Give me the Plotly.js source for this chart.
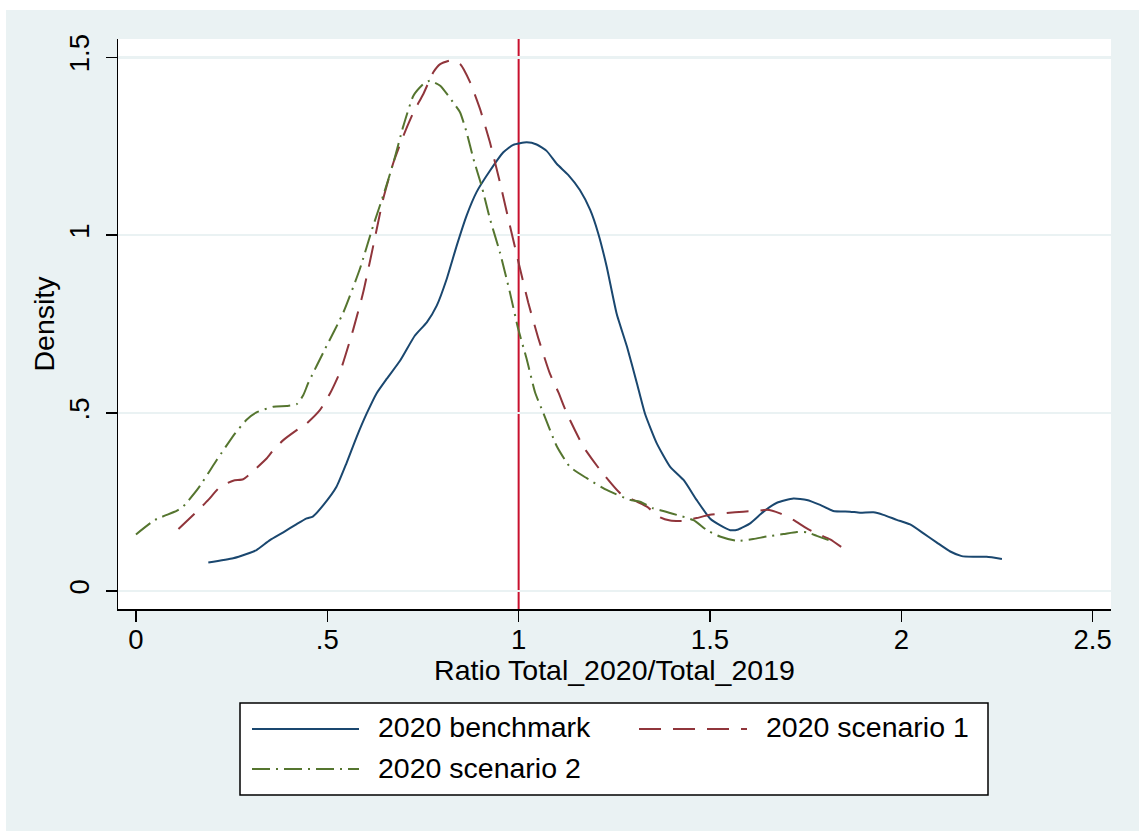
<!DOCTYPE html>
<html>
<head>
<meta charset="utf-8">
<script src="https://cdn.plot.ly/plotly-3.0.1.min.js"></script>
<style>
  html, body { margin: 0; padding: 0; background: #ffffff; }
  #chart { position: absolute; left: 6px; top: 10px; width: 1133px; height: 821px; }
</style>
</head>
<body>
<div id="chart"></div>
<script>
// ---------- data ----------
const benchmarkX = [0.189, 0.254, 0.289, 0.315, 0.35, 0.385, 0.42, 0.446, 0.462, 0.49, 0.524, 0.55, 0.577, 0.603, 0.629, 0.655, 0.69, 0.729, 0.76, 0.786, 0.812, 0.838, 0.864, 0.89, 0.925, 0.96, 0.986, 1.021, 1.047, 1.073, 1.1, 1.13, 1.16, 1.187, 1.208, 1.23, 1.256, 1.283, 1.309, 1.33, 1.361, 1.396, 1.431, 1.465, 1.5, 1.526, 1.553, 1.574, 1.605, 1.64, 1.675, 1.718, 1.753, 1.788, 1.822, 1.866, 1.892, 1.927, 1.953, 1.988, 2.023, 2.058, 2.093, 2.128, 2.158, 2.188, 2.223, 2.263];
const benchmarkY = [0.08, 0.092, 0.104, 0.115, 0.143, 0.165, 0.188, 0.204, 0.209, 0.242, 0.293, 0.359, 0.434, 0.499, 0.556, 0.596, 0.647, 0.718, 0.755, 0.802, 0.877, 0.97, 1.055, 1.121, 1.181, 1.233, 1.254, 1.261, 1.255, 1.237, 1.2, 1.169, 1.127, 1.071, 1.005, 0.912, 0.78, 0.687, 0.584, 0.499, 0.415, 0.349, 0.312, 0.256, 0.204, 0.185, 0.171, 0.173, 0.19, 0.223, 0.248, 0.26, 0.256, 0.242, 0.225, 0.223, 0.22, 0.221, 0.214, 0.2, 0.187, 0.162, 0.136, 0.111, 0.098, 0.096, 0.096, 0.09];

const scenario1X = [0.111, 0.167, 0.189, 0.22, 0.254, 0.28, 0.298, 0.342, 0.359, 0.385, 0.42, 0.446, 0.481, 0.507, 0.533, 0.568, 0.594, 0.62, 0.646, 0.673, 0.699, 0.725, 0.751, 0.777, 0.795, 0.825, 0.847, 0.873, 0.899, 0.925, 0.951, 0.973, 0.999, 1.025, 1.051, 1.082, 1.104, 1.126, 1.169, 1.213, 1.265, 1.309, 1.335, 1.37, 1.396, 1.431, 1.465, 1.5, 1.544, 1.587, 1.622, 1.648, 1.683, 1.718, 1.753, 1.788, 1.814, 1.844];
const scenario1Y = [0.174, 0.232, 0.256, 0.293, 0.31, 0.314, 0.329, 0.373, 0.396, 0.424, 0.452, 0.471, 0.509, 0.555, 0.615, 0.736, 0.84, 0.97, 1.102, 1.205, 1.28, 1.345, 1.397, 1.458, 1.481, 1.492, 1.481, 1.43, 1.355, 1.261, 1.149, 1.046, 0.927, 0.811, 0.712, 0.61, 0.558, 0.499, 0.406, 0.34, 0.275, 0.251, 0.237, 0.207, 0.198, 0.197, 0.205, 0.214, 0.219, 0.223, 0.225, 0.228, 0.218, 0.2, 0.176, 0.157, 0.145, 0.123];

const scenario2X = [0, 0.05, 0.106, 0.123, 0.163, 0.211, 0.259, 0.289, 0.315, 0.359, 0.394, 0.42, 0.437, 0.45, 0.494, 0.542, 0.585, 0.62, 0.646, 0.673, 0.699, 0.725, 0.751, 0.768, 0.795, 0.829, 0.847, 0.864, 0.882, 0.903, 0.925, 0.951, 0.977, 0.999, 1.021, 1.043, 1.065, 1.1, 1.134, 1.178, 1.23, 1.291, 1.317, 1.352, 1.378, 1.413, 1.457, 1.492, 1.526, 1.57, 1.613, 1.648, 1.692, 1.727, 1.753, 1.779, 1.81];
const scenario2Y = [0.159, 0.2, 0.225, 0.237, 0.289, 0.368, 0.443, 0.481, 0.502, 0.518, 0.52, 0.525, 0.55, 0.584, 0.68, 0.783, 0.905, 1.027, 1.111, 1.205, 1.308, 1.392, 1.425, 1.434, 1.42, 1.373, 1.345, 1.289, 1.214, 1.139, 1.046, 0.952, 0.84, 0.736, 0.652, 0.558, 0.499, 0.406, 0.349, 0.317, 0.284, 0.256, 0.251, 0.232, 0.225, 0.214, 0.199, 0.171, 0.153, 0.141, 0.146, 0.153, 0.16, 0.166, 0.165, 0.155, 0.143];

const seriesNames = ["2020 benchmark", "2020 scenario 1", "2020 scenario 2"];
const xTickVals = [0, 0.5, 1, 1.5, 2, 2.5];
const xTickText = ["0", ".5", "1", "1.5", "2", "2.5"];
const yTickVals = [0, 0.5, 1, 1.5];
const yTickText = ["0", ".5", "1", "1.5"];
const referenceX = 1;
const xTitle = "Ratio Total_2020/Total_2019";
const yTitle = "Density";

// ---------- styles ----------
const FONT = "Liberation Sans, Arial, Helvetica, sans-serif";
const BG = "#EAF2F3";
const colors = ["#1a476f", "#90353b", "#55752f"];
const dashes = ["solid", "22px,12px", "18px,6px,2px,6px"];

const traces = [
  {x: benchmarkX, y: benchmarkY},
  {x: scenario1X, y: scenario1Y},
  {x: scenario2X, y: scenario2Y}
].map((d, i) => ({
  type: "scatter", mode: "lines", name: seriesNames[i],
  x: d.x, y: d.y,
  line: {color: colors[i], width: 2, dash: dashes[i], shape: "spline", smoothing: 0.5},
  showlegend: false, hoverinfo: "x+y+name"
}));

// plot-area pixel geometry (page pixels) used only to place the hand-drawn legend
const PL = 118, PR = 1111, PT = 39, PB = 609;
const px = v => (v - PL) / (PR - PL);
const py = v => (PB - v) / (PB - PT);

const shapes = [
  {type: "line", xref: "x", yref: "paper", x0: referenceX, x1: referenceX, y0: 0, y1: 1,
   line: {color: "#C8102E", width: 2}, layer: "between"},
  // legend box
  {type: "rect", xref: "paper", yref: "paper", x0: px(240), x1: px(988), y0: py(703), y1: py(795),
   line: {color: "#000000", width: 1.5}, fillcolor: "#ffffff", layer: "above"}
];
const keyPos = [
  {x0: 252, x1: 359, y: 729, tx: 376, ty: 727},
  {x0: 639, x1: 747, y: 729, tx: 764, ty: 727},
  {x0: 252, x1: 359, y: 769, tx: 376, ty: 768}
];
const annotations = [];
keyPos.forEach((k, i) => {
  shapes.push({type: "line", xref: "paper", yref: "paper", x0: px(k.x0), x1: px(k.x1), y0: py(k.y), y1: py(k.y),
    line: {color: colors[i], width: 2, dash: dashes[i]}, layer: "above"});
  annotations.push({xref: "paper", yref: "paper", x: px(k.tx), y: py(k.ty), xanchor: "left", yanchor: "middle",
    text: seriesNames[i], showarrow: false, font: {family: FONT, size: 28.5, color: "#000000"}});
});

const layout = {
  width: 1133, height: 821,
  paper_bgcolor: BG, plot_bgcolor: "#ffffff",
  margin: {l: 112, r: 28, t: 29, b: 222, pad: 0},
  font: {family: FONT, size: 27, color: "#000000"},
  xaxis: {
    range: [-0.047, 2.548], tickvals: xTickVals, ticktext: xTickText,
    showgrid: false, zeroline: false, showline: true, linecolor: "#000000", linewidth: 1.5,
    ticks: "outside", ticklen: 11, tickwidth: 1.5, tickcolor: "#000000",
    ticklabelstandoff: -6,
    tickfont: {family: FONT, size: 27.5, color: "#000000"},
    title: {text: xTitle, font: {family: FONT, size: 28.5, color: "#000000"}, standoff: 6},
    automargin: false
  },
  yaxis: {
    range: [-0.0506, 1.5514], tickvals: yTickVals, ticktext: yTickText, tickangle: -90,
    showgrid: true, gridcolor: BG, gridwidth: 2.5, zeroline: false,
    showline: true, linecolor: "#000000", linewidth: 1.5,
    ticks: "outside", ticklen: 11, tickwidth: 1.5, tickcolor: "#000000",
    ticklabelstandoff: 6,
    tickfont: {family: FONT, size: 27.5, color: "#000000"},
    title: {text: yTitle, font: {family: FONT, size: 28.5, color: "#000000"}, standoff: 0},
    automargin: false
  },
  shapes: shapes,
  annotations: annotations,
  showlegend: false
};

Plotly.newPlot("chart", traces, layout, {displayModeBar: false, staticPlot: true});
</script>
</body>
</html>
